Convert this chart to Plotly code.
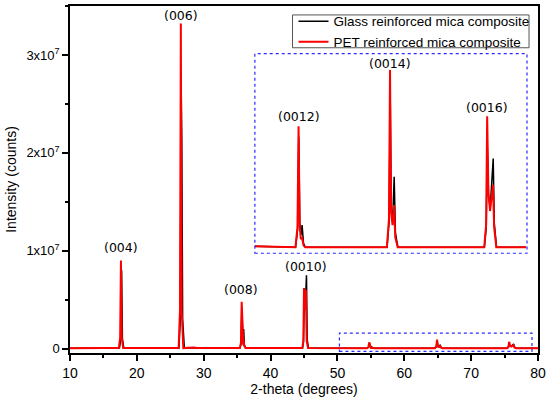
import plotly.graph_objects as go

# ---- data ----
glass_2theta = [10.0, 13.0, 15.0, 17.40, 17.60, 17.72, 17.84, 18.05, 24.0, 26.30, 26.50, 26.63, 26.72, 26.85, 27.10,
                28.5, 29.0, 35.42, 35.59, 35.70, 35.82, 35.90, 35.98, 36.07, 36.30,
                44.78, 44.93, 45.05, 45.18, 45.37, 45.48, 45.68,
                54.42, 54.65, 54.77, 54.89, 55.02, 55.14, 55.30, 55.50,
                64.57, 64.80, 64.92, 65.04, 65.20, 65.36, 65.50, 65.78,
                75.37, 75.58, 75.70, 75.84, 76.02, 76.35, 76.47, 76.72, 80.0]
glass_counts = [5e4, 8e4, 6e4, 6e4, 1.0e6, 8.0e6, 1.0e6, 6e4, 8e4, 6e4, 3.0e6, 2.65e7, 2.15e7, 3.0e6, 6e4,
                1.1e5, 6e4, 6e4, 5e5, 4.2e6, 6e5, 5e5, 2.0e6, 4e5, 6e4,
                6e4, 7e5, 5.5e6, 4.0e6, 7.5e6, 9e5, 6e4,
                5e4, 1.4e5, 6.0e5, 1.7e5, 1.1e5, 1.6e5, 7e4, 5e4,
                5e4, 1.8e5, 8.0e5, 2.3e5, 1.9e5, 4.0e5, 1.2e5, 5e4,
                5e4, 1.5e5, 5.4e5, 3.0e5, 2.5e5, 4.9e5, 1.7e5, 5e4, 5e4]

pet_2theta = [10.0, 13.0, 15.0, 17.30, 17.50, 17.62, 17.74, 17.95, 24.0, 26.25, 26.45, 26.58, 26.70, 26.95,
              28.5, 29.0, 35.40, 35.57, 35.68, 35.80, 35.92, 35.98, 36.05, 36.25,
              44.75, 44.90, 45.00, 45.15, 45.28, 45.40, 45.60,
              54.40, 54.63, 54.75, 54.87, 55.00, 55.13, 55.30, 55.50,
              64.55, 64.78, 64.90, 65.02, 65.18, 65.35, 65.48, 65.75,
              75.35, 75.56, 75.68, 75.82, 76.00, 76.33, 76.45, 76.70, 80.0]
pet_counts = [5e4, 9e4, 6e4, 6e4, 1.1e6, 9.0e6, 1.1e6, 6e4, 8e4, 6e4, 4.0e6, 3.32e7, 4.0e6, 6e4,
              1.2e5, 6e4, 6e4, 6e5, 4.8e6, 7e5, 3.5e5, 9e5, 3e5, 6e4,
              6e4, 8e5, 6.2e6, 4.0e6, 6.0e6, 8e5, 6e4,
              5e4, 1.5e5, 6.5e5, 1.6e5, 9e4, 1.0e5, 6e4, 5e4,
              5e4, 1.9e5, 9.3e5, 2.2e5, 1.6e5, 2.6e5, 1.0e5, 5e4,
              5e4, 1.6e5, 7.0e5, 3.2e5, 2.3e5, 3.6e5, 1.5e5, 5e4, 5e4]

main_labels = ["(004)", "(006)", "(008)", "(0010)"]
main_label_x = [17.6, 26.6, 35.6, 45.3]
main_label_y = [1.03e7, 3.40e7, 0.60e7, 0.84e7]

inset_labels = ["(0012)", "(0014)", "(0016)"]
inset_label_x = [54.75, 64.9, 75.67]
inset_label_y = [7.0e5, 9.63e5, 7.44e5]

y_tick_vals = [0, 1e7, 2e7, 3e7]
y_tick_text = ["0", "1x10<sup>7</sup>", "2x10<sup>7</sup>", "3x10<sup>7</sup>"]
x_tick_vals = [10, 20, 30, 40, 50, 60, 70, 80]

series_names = ["Glass reinforced mica composite", "PET reinforced mica composite"]

# ---- figure ----
fig = go.Figure()
fig.add_trace(go.Scatter(x=glass_2theta, y=glass_counts, mode="lines", name=series_names[0],
                         line=dict(color="black", width=1.5)))
fig.add_trace(go.Scatter(x=pet_2theta, y=pet_counts, mode="lines", name=series_names[1],
                         line=dict(color="#ff0000", width=2)))
fig.add_trace(go.Scatter(x=glass_2theta, y=glass_counts, mode="lines", showlegend=False,
                         xaxis="x2", yaxis="y2", line=dict(color="black", width=1.5)))
fig.add_trace(go.Scatter(x=pet_2theta, y=pet_counts, mode="lines", showlegend=False,
                         xaxis="x2", yaxis="y2", line=dict(color="#ff0000", width=2)))

font_main = "Liberation Sans, Arial, sans-serif"
font_lab = "DejaVu Sans, Verdana, sans-serif"

annotations = []
for t, x, y in zip(main_labels, main_label_x, main_label_y):
    annotations.append(dict(text=t, x=x, y=y, xref="x", yref="y", showarrow=False,
                            font=dict(family=font_lab, size=12.5, color="black")))
for t, x, y in zip(inset_labels, inset_label_x, inset_label_y):
    annotations.append(dict(text=t, x=x, y=y, xref="x2", yref="y2", showarrow=False,
                            font=dict(family=font_lab, size=12.5, color="black")))

# plot area: 70..539 px wide, 4..353 px tall
shapes = [
    dict(type="rect", xref="x2 domain", yref="y2 domain", x0=0, x1=1, y0=0, y1=1,
         line=dict(color="#2a2aff", width=1.2, dash="dot"), layer="above"),
    dict(type="rect", xref="x", yref="y", x0=50.3, x1=79.1, y0=-2.7e5, y1=1.6e6,
         line=dict(color="#2a2aff", width=1.2, dash="dot"), layer="above"),
    # legend frame
    dict(type="rect", xref="paper", yref="paper",
         x0=(293 - 70) / 469, x1=(530 - 70) / 469, y0=(353 - 46) / 349, y1=(353 - 13) / 349,
         line=dict(color="#555555", width=1), layer="above"),
]

fig.update_layout(
    width=550, height=398,
    margin=dict(l=70, r=11, t=4, b=45),
    paper_bgcolor="white", plot_bgcolor="white",
    font=dict(family=font_main, size=13, color="black"),
    showlegend=True,
    legend=dict(x=(294 - 70) / 469, y=(353 - 30) / 349, xanchor="left", yanchor="middle",
                bgcolor="rgba(0,0,0,0)", borderwidth=0,
                font=dict(family=font_main, size=13.5, color="black"),
                itemwidth=30, tracegroupgap=0),
    xaxis=dict(range=[10, 80], tickvals=x_tick_vals, showgrid=False, zeroline=False,
               showline=True, linecolor="black", linewidth=1.5, mirror=True,
               ticks="outside", ticklen=6, tickwidth=1.5, tickcolor="black",
               minor=dict(dtick=5, tick0=10, ticks="outside", ticklen=3, tickwidth=1.5, tickcolor="black"),
               tickfont=dict(size=14),
               title=dict(text="2-theta (degrees)", font=dict(size=14), standoff=4)),
    yaxis=dict(range=[-4.4e5, 3.5e7], tickvals=y_tick_vals, ticktext=y_tick_text, showgrid=False,
               zeroline=False, showline=True, linecolor="black", linewidth=1.5, mirror=True,
               ticks="outside", ticklen=6, tickwidth=1.5, tickcolor="black",
               minor=dict(dtick=5e6, tick0=0, ticks="outside", ticklen=3, tickwidth=1.5, tickcolor="black"),
               tickfont=dict(size=13),
               title=dict(text="Intensity (counts)", font=dict(size=14), standoff=6)),
    xaxis2=dict(domain=[0.395, 0.9765], range=[49.9, 80.1], anchor="y2", visible=False),
    yaxis2=dict(domain=[0.2874, 0.8625], range=[2.04e4, 1.0105e6], anchor="x2", visible=False),
    annotations=annotations,
    shapes=shapes,
)

fig.write_html("out.html", config={"displayModeBar": False},
               post_script="document.body.style.margin='0px';")
